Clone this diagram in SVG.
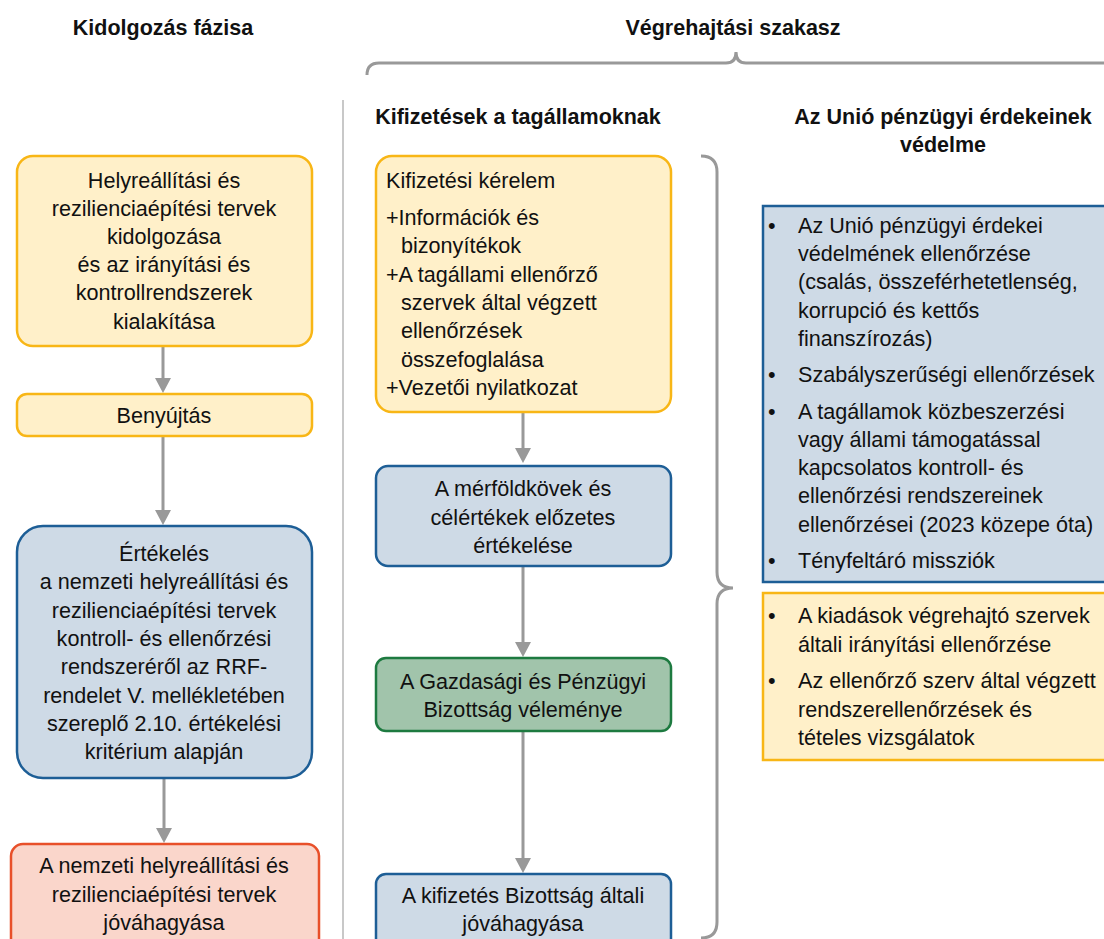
<svg xmlns="http://www.w3.org/2000/svg" width="1104" height="939" viewBox="0 0 1104 939">
<style>
text{font-family:"Liberation Sans",Arial,sans-serif;font-size:21.6px;fill:#111}
.h{font-weight:bold;font-size:21.5px}
.c{text-anchor:middle}
.y{fill:#FFF0C9;stroke:#F8B616;stroke-width:2.5}
.b{fill:#CEDAE6;stroke:#1D5E96;stroke-width:2.5}
.g{fill:#A1C4AB;stroke:#1D7A40;stroke-width:2.5}
.r{fill:#FAD6CB;stroke:#E8502A;stroke-width:2.5}
.ln{fill:none;stroke:#999;stroke-width:3}
.sep{fill:none;stroke:#C8C8C8;stroke-width:2}
.ah{fill:#999}
</style>
<g id="headers">
<text class="h c" x="163" y="35">Kidolgozás fázisa</text>
<text class="h c" x="733" y="35">Végrehajtási szakasz</text>
<text class="h c" x="518" y="124">Kifizetések a tagállamoknak</text>
<text class="h c" x="943" y="124">Az Unió pénzügyi érdekeinek</text>
<text class="h c" x="943" y="152">védelme</text>
</g>
<g id="braces">
<path class="ln" d="M367,75 Q367,63 379,63 L726,63 Q736,63 736,52 Q736,63 746,63 L1110,63"/>
<path class="ln" d="M701,156 Q717,156 717,172 L717,572 Q717,588 733,588 Q717,588 717,604 L717,922 Q717,938 701,938"/>
<path class="sep" d="M343,100 L343,939"/>
</g>
<g id="connectors">
<path class="ln" d="M163,346 L163,378"/>
<path class="ah" d="M155,378 L171,378 L163,393 Z"/>
<path class="ln" d="M163,436 L163,510"/>
<path class="ah" d="M155,510 L171,510 L163,525 Z"/>
<path class="ln" d="M164,778 L164,828"/>
<path class="ah" d="M156,828 L172,828 L164,843 Z"/>
<path class="ln" d="M523,412 L523,448"/>
<path class="ah" d="M515,448 L531,448 L523,463 Z"/>
<path class="ln" d="M523,566 L523,642"/>
<path class="ah" d="M515,642 L531,642 L523,657 Z"/>
<path class="ln" d="M523,731 L523,858"/>
<path class="ah" d="M515,858 L531,858 L523,873 Z"/>
</g>
<g id="n1">
<rect class="y" x="17" y="156" width="295" height="190" rx="16"/>
<text class="c" x="164" y="188">Helyreállítási és</text>
<text class="c" x="164" y="216">rezilienciaépítési tervek</text>
<text class="c" x="164" y="244">kidolgozása</text>
<text class="c" x="164" y="272">és az irányítási és</text>
<text class="c" x="164" y="300">kontrollrendszerek</text>
<text class="c" x="164" y="329">kialakítása</text>
</g>
<g id="n2">
<rect class="y" x="17" y="394" width="295" height="42" rx="10"/>
<text class="c" x="164" y="423">Benyújtás</text>
</g>
<g id="n3">
<rect class="b" x="17" y="526" width="295" height="252" rx="26"/>
<text class="c" x="164" y="561">Értékelés</text>
<text class="c" x="164" y="589">a nemzeti helyreállítási és</text>
<text class="c" x="164" y="618">rezilienciaépítési tervek</text>
<text class="c" x="164" y="646">kontroll- és ellenőrzési</text>
<text class="c" x="164" y="674">rendszeréről az RRF-</text>
<text class="c" x="164" y="703">rendelet V. mellékletében</text>
<text class="c" x="164" y="731">szereplő 2.10. értékelési</text>
<text class="c" x="164" y="759">kritérium alapján</text>
</g>
<g id="n4">
<rect class="r" x="11" y="844" width="308" height="110" rx="12"/>
<text class="c" x="164" y="873">A nemzeti helyreállítási és</text>
<text class="c" x="164" y="902">rezilienciaépítési tervek</text>
<text class="c" x="164" y="930">jóváhagyása</text>
</g>
<g id="m1">
<rect class="y" x="376" y="156" width="295" height="256" rx="16"/>
<text x="386" y="188">Kifizetési kérelem</text>
<text x="386" y="225">+Információk és</text>
<text x="401" y="253">bizonyítékok</text>
<text x="386" y="282">+A tagállami ellenőrző</text>
<text x="401" y="310">szervek által végzett</text>
<text x="401" y="338">ellenőrzések</text>
<text x="401" y="367">összefoglalása</text>
<text x="386" y="395">+Vezetői nyilatkozat</text>
</g>
<g id="m2">
<rect class="b" x="376" y="466" width="295" height="100" rx="12"/>
<text class="c" x="523" y="496">A mérföldkövek és</text>
<text class="c" x="523" y="525">célértékek előzetes</text>
<text class="c" x="523" y="553">értékelése</text>
</g>
<g id="m3">
<rect class="g" x="376" y="658" width="295" height="73" rx="10"/>
<text class="c" x="523" y="689">A Gazdasági és Pénzügyi</text>
<text class="c" x="523" y="717">Bizottság véleménye</text>
</g>
<g id="m4">
<rect class="b" x="376" y="874" width="295" height="80" rx="10"/>
<text class="c" x="523" y="903">A kifizetés Bizottság általi</text>
<text class="c" x="523" y="931">jóváhagyása</text>
</g>
<g id="r1">
<rect class="b" x="763" y="206" width="350" height="376"/>
<text x="768" y="233">•</text><text x="798" y="233">Az Unió pénzügyi érdekei</text>
<text x="798" y="261">védelmének ellenőrzése</text>
<text x="798" y="289">(csalás, összeférhetetlenség,</text>
<text x="798" y="318">korrupció és kettős</text>
<text x="798" y="346">finanszírozás)</text>
<text x="768" y="382">•</text><text x="798" y="382">Szabályszerűségi ellenőrzések</text>
<text x="768" y="419">•</text><text x="798" y="419">A tagállamok közbeszerzési</text>
<text x="798" y="447">vagy állami támogatással</text>
<text x="798" y="475">kapcsolatos  kontroll- és</text>
<text x="798" y="503">ellenőrzési rendszereinek</text>
<text x="798" y="532">ellenőrzései (2023 közepe óta)</text>
<text x="768" y="568">•</text><text x="798" y="568">Tényfeltáró missziók</text>
</g>
<g id="r2">
<rect class="y" x="763" y="593" width="350" height="167"/>
<text x="768" y="623">•</text><text x="798" y="623">A kiadások végrehajtó szervek</text>
<text x="798" y="652">általi irányítási ellenőrzése</text>
<text x="768" y="688">•</text><text x="798" y="688">Az ellenőrző szerv által végzett</text>
<text x="798" y="717">rendszerellenőrzések és</text>
<text x="798" y="745">tételes vizsgálatok</text>
</g>
</svg>
